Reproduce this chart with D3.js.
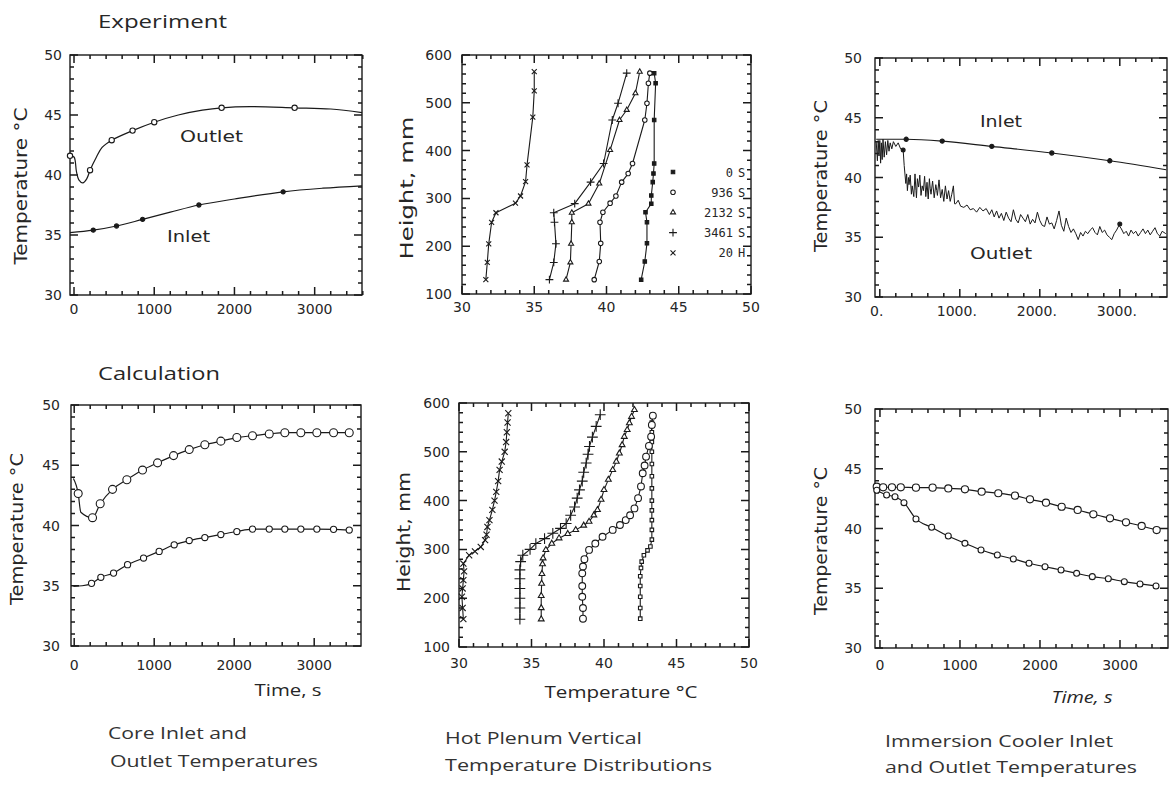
<!DOCTYPE html>
<html><head><meta charset="utf-8">
<script src="https://cdn.jsdelivr.net/npm/d3@7"></script>
<style>body{margin:0;background:#fff}</style>
</head><body><svg id="c" width="1176" height="786"></svg>
<script>
// ---------------- DATA ----------------
const timeTicks = [0, 1000, 2000, 3000];
const tempTicks = [30, 35, 40, 45, 50];
const heightTicks = [100, 200, 300, 400, 500, 600];
const profTempTicks = [30, 35, 40, 45, 50];

// Experiment: core inlet / outlet [time s, temp C]
const expCoreOutlet = [[-50,41.6],[0,41.5],[30,40.3],[60,39.6],[110,39.35],[160,39.7],[200,40.4],[280,41.5],[350,42.3],[470,42.9],[730,43.7],[1000,44.4],[1300,45.0],[1600,45.4],[1840,45.6],[2200,45.7],[2750,45.6],[3200,45.5],[3590,45.2]];
const expCoreOutletMarks = [[-50,41.6],[200,40.4],[470,42.9],[730,43.7],[1000,44.4],[1840,45.6],[2750,45.6]];
const expCoreInlet = [[-50,35.2],[240,35.4],[530,35.75],[855,36.3],[1200,36.9],[1557,37.5],[2000,38.0],[2607,38.6],[3100,38.9],[3590,39.1]];
const expCoreInletMarks = [[240,35.4],[530,35.75],[855,36.3],[1557,37.5],[2607,38.6]];

// Experiment: hot plenum profiles [temp C, height mm]
const expProf0s = [[42.4,130],[42.65,168],[42.8,206],[42.8,250],[42.7,271],[43.1,289],[43.1,306],[43.2,334],[43.25,352],[43.3,373],[43.3,464],[43.4,541],[43.3,562]];
const expProf936s = [[39.15,130],[39.5,168],[39.6,206],[39.55,250],[39.75,271],[40.25,290],[40.65,305],[41.05,334],[41.5,352],[41.8,373],[42.65,464],[42.8,499],[42.9,541],[43.0,562]];
const expProf2132s = [[37.2,130],[37.5,166],[37.55,205],[37.6,250],[37.6,270],[38.75,289],[39.5,331],[40.25,401],[40.9,464],[41.4,485],[42.0,520],[42.3,565]];
const expProf3461s = [[36.05,130],[36.35,166],[36.5,205],[36.4,250],[36.35,270],[37.8,289],[38.9,334],[39.8,373],[40.4,464],[40.8,499],[41.4,562]];
const expProf20h = [[31.65,130],[31.75,166],[31.85,205],[32.05,250],[32.35,270],[33.7,290],[34.05,305],[34.4,335],[34.5,370],[34.9,470],[35.0,525],[35.0,565]];
const legendLabels = [["0","S"],["936","S"],["2132","S"],["3461","S"],["20","H"]];

// Experiment: immersion cooler [time s, temp C]
const expCoolInlet = [[-45,43.2],[330,43.2],[780,43.05],[1400,42.6],[2150,42.05],[2875,41.4],[3580,40.65]];
const expCoolInletMarks = [[330,43.2],[780,43.05],[1400,42.6],[2150,42.05],[2875,41.4]];
const expCoolOutlet = [[-45,43.0],[-30,41.4],[-20,43.1],[-10,41.8],[0,43.1],[10,41.2],[20,42.9],[30,41.5],[40,43.2],[55,41.7],[70,43.0],[85,41.9],[100,43.1],[115,42.2],[130,42.9],[150,42.4],[170,43.0],[200,42.6],[230,42.9],[260,42.4],[292,42.3],[305,41.0],[325,39.5],[335,40.3],[345,38.9],[358,40.0],[365,39.4],[380,40.2],[395,38.6],[405,39.3],[425,38.4],[440,40.3],[452,38.9],[458,38.3],[470,39.9],[485,39.2],[500,40.2],[515,38.5],[530,39.3],[545,38.9],[560,40.1],[568,39.2],[575,38.4],[590,39.6],[605,38.2],[620,39.9],[630,39.1],[640,38.6],[660,39.7],[680,38.3],[700,39.4],[712,38.9],[720,38.5],[740,39.8],[760,38.3],[780,39.0],[800,38.0],[820,39.3],[840,38.2],[860,38.9],[880,38.0],[900,38.6],[920,39.3],[935,37.8],[950,37.8],[980,38.1],[1010,37.6],[1050,37.5],[1090,37.7],[1130,37.3],[1170,37.4],[1210,37.1],[1250,37.5],[1290,37.2],[1330,37.4],[1370,36.9],[1400,37.3],[1430,36.7],[1460,37.2],[1490,36.6],[1520,37.0],[1550,36.4],[1580,37.1],[1610,36.6],[1640,36.3],[1670,37.3],[1700,36.5],[1730,36.2],[1760,36.9],[1790,36.6],[1820,36.3],[1850,36.9],[1880,36.1],[1910,36.5],[1940,36.2],[1970,37.1],[2000,36.4],[2030,36.0],[2060,35.9],[2090,36.7],[2120,36.1],[2150,36.2],[2180,35.7],[2210,36.4],[2240,37.2],[2270,36.0],[2300,35.5],[2330,36.6],[2360,35.9],[2390,35.4],[2420,35.7],[2450,35.3],[2480,34.8],[2510,35.4],[2540,35.1],[2570,35.5],[2600,35.3],[2630,35.6],[2660,35.8],[2690,35.4],[2720,35.2],[2750,35.9],[2780,35.4],[2810,35.6],[2840,35.2],[2870,35.0],[2900,34.8],[2930,35.3],[2960,35.6],[2990,36.0],[3020,35.7],[3050,35.3],[3080,35.5],[3110,35.1],[3140,35.6],[3170,35.3],[3200,35.5],[3230,35.1],[3260,35.4],[3290,35.7],[3320,35.3],[3350,35.6],[3380,35.2],[3410,35.5],[3440,35.8],[3470,35.3],[3500,35.1],[3530,35.5],[3575,35.3]];
const expCoolOutletMarks = [[292,42.3],[3000,36.1]];

// Calculation: core [time s, temp C]
const calcCoreOutlet = [[-10,43.9],[50,42.65],[83,41.1],[229,40.65],[325,41.8],[479,43.0],[658,43.8],[854,44.6],[1042,45.2],[1242,45.8],[1438,46.3],[1633,46.7],[1833,47.0],[2033,47.3],[2229,47.45],[2438,47.6],[2633,47.7],[2833,47.7],[3033,47.7],[3242,47.7],[3438,47.7]];
const calcCoreOutletMarks = [[50,42.65],[229,40.65],[325,41.8],[479,43.0],[658,43.8],[854,44.6],[1042,45.2],[1242,45.8],[1438,46.3],[1633,46.7],[1833,47.0],[2033,47.3],[2229,47.45],[2438,47.6],[2633,47.7],[2833,47.7],[3033,47.7],[3242,47.7],[3438,47.7]];
const calcCoreInlet = [[-10,34.95],[100,35.0],[217,35.2],[333,35.7],[492,36.05],[667,36.75],[867,37.3],[1062,37.85],[1250,38.4],[1438,38.75],[1633,39.0],[1833,39.25],[2033,39.5],[2229,39.7],[2438,39.7],[2633,39.7],[2833,39.7],[3033,39.7],[3242,39.68],[3438,39.62]];
const calcCoreInletMarks = calcCoreInlet.slice(2);

// Calculation: hot plenum profiles [temp C, height mm]
const calcProf0s = [[42.5,158],[42.5,180],[42.5,203],[42.5,225],[42.5,245],[42.55,262],[42.6,275],[42.75,288],[43.0,298],[43.2,306],[43.3,320],[43.3,340],[43.3,360],[43.3,380],[43.3,400],[43.3,425],[43.3,450],[43.3,475],[43.3,500],[43.3,520],[43.3,540],[43.3,560],[43.35,576]];
const calcProf936s = [[38.55,158],[38.55,180],[38.5,203],[38.5,225],[38.5,251],[38.55,265],[38.65,280],[38.97,299],[39.4,312],[39.9,326],[40.6,340],[41.1,350],[41.5,360],[41.8,370],[42.1,384],[42.35,405],[42.55,429],[42.67,456],[42.8,472],[42.9,490],[43.1,512],[43.25,531],[43.3,555],[43.37,574]];
const calcProf2132s = [[35.67,157],[35.67,180],[35.67,205],[35.7,230],[35.72,250],[35.76,270],[35.8,282],[35.99,299],[36.4,312],[36.9,323],[37.5,332],[38.05,340],[38.6,349],[38.97,357],[39.3,370],[39.55,381],[39.8,402],[40.0,422],[40.3,443],[40.6,463],[40.85,480],[41.06,497],[41.25,514],[41.4,531],[41.6,545],[41.75,559],[41.9,572],[42.1,586]];
const calcProf3461s = [[34.2,157],[34.2,180],[34.2,200],[34.2,220],[34.2,240],[34.2,258],[34.25,275],[34.4,288],[34.9,300],[35.3,312],[35.9,322],[36.47,333],[37.0,343],[37.39,353],[37.7,370],[37.97,387],[38.15,405],[38.31,422],[38.5,440],[38.6,458],[38.77,477],[38.9,495],[39.0,511],[39.2,530],[39.46,552],[39.74,576]];
const calcProf20h = [[30.3,157],[30.25,180],[30.2,203],[30.25,220],[30.3,237],[30.35,255],[30.3,271],[30.7,288],[31.1,296],[31.5,305],[31.8,319],[31.9,330],[31.96,346],[32.1,360],[32.3,381],[32.45,400],[32.57,418],[32.7,440],[32.8,463],[32.95,480],[33.15,500],[33.25,520],[33.3,540],[33.35,560],[33.4,579]];

// Calculation: immersion cooler [time s, temp C]
const calcCoolInlet = [[-40,43.5],[40,43.45],[150,43.45],[260,43.45],[450,43.42],[658,43.42],[854,43.35],[1062,43.28],[1271,43.08],[1479,42.95],[1688,42.75],[1875,42.44],[2075,42.16],[2271,41.82],[2471,41.55],[2667,41.19],[2875,40.85],[3075,40.52],[3271,40.21],[3458,39.87]];
const calcCoolOutlet = [[-40,43.2],[83,42.8],[188,42.66],[300,42.16],[450,40.8],[646,40.1],[854,39.37],[1062,38.76],[1263,38.2],[1467,37.78],[1667,37.45],[1863,37.09],[2063,36.8],[2263,36.53],[2458,36.25],[2654,35.97],[2854,35.8],[3054,35.55],[3250,35.36],[3450,35.19]];

// ---------------- DRAWING ----------------
const svg = d3.select("#c");
const INK = "#1a1a1a";
const TXT = "#262626";

function makePanel(f) {
  const x = d3.scaleLinear().domain(f.xDom).range([f.x0, f.x1]);
  const y = d3.scaleLinear().domain(f.yDom).range([f.y1, f.y0]);
  const g = svg.append("g");
  const W = f.x1 - f.x0, H = f.y1 - f.y0;
  const xMinorVals = d3.range(f.xMinor[0], f.xMinor[1] + 1e-9, f.xMinor[2]);
  const yMinorVals = d3.range(f.yMinor[0], f.yMinor[1] + 1e-9, f.yMinor[2]);
  const tp = d3.path();
  const vt = (v, len) => { const px = x(v); tp.moveTo(px, f.y1); tp.lineTo(px, f.y1 - len); tp.moveTo(px, f.y0); tp.lineTo(px, f.y0 + len); };
  const ht = (v, len) => { const py = y(v); tp.moveTo(f.x0, py); tp.lineTo(f.x0 + len, py); tp.moveTo(f.x1, py); tp.lineTo(f.x1 - len, py); };
  xMinorVals.forEach(v => vt(v, 4));
  f.xTicks.forEach(v => vt(v, 8));
  yMinorVals.forEach(v => ht(v, 4));
  f.yTicks.forEach(v => ht(v, 8));
  g.append("path").attr("d", tp.toString()).attr("fill", "none").attr("stroke", INK).attr("stroke-width", 1.5);
  const fmt = f.xFmt || (d => d);
  g.append("g").selectAll("text").data(f.xTicks).join("text")
    .attr("x", d => x(d) + (f.xdx || 0)).attr("y", f.y1 + f.xPad)
    .attr("text-anchor", "middle").attr("font-family", "DejaVu Sans").attr("font-size", 14).attr("fill", TXT)
    .text(fmt);
  g.append("g").selectAll("text").data(f.yTicks).join("text")
    .attr("x", f.x0 - f.yPad).attr("y", d => y(d) + 5)
    .attr("text-anchor", "end").attr("font-family", "DejaVu Sans").attr("font-size", 14).attr("fill", TXT)
    .text(d => d);
  g.append("rect").attr("x", f.x0).attr("y", f.y0).attr("width", W).attr("height", H)
    .attr("fill", "none").attr("stroke", INK).attr("stroke-width", 1.4);
  return {x, y, g};
}

function drawLine(p, data, curve, w) {
  p.g.append("path").datum(data)
    .attr("d", d3.line().x(d => p.x(d[0])).y(d => p.y(d[1])).curve(curve || d3.curveLinear))
    .attr("fill", "none").attr("stroke", INK).attr("stroke-width", w || 1.2).attr("stroke-linejoin", "round");
}

const SYM = {circle: d3.symbolCircle, square: d3.symbolSquare, tri: d3.symbolTriangle2,
             plus: d3.symbolPlus, times: d3.symbolTimes, sq2: d3.symbolSquare2};
function marks(p, data, type, size, filled) {
  const stroked = (type === "plus" || type === "times");
  p.g.append("g").selectAll("path").data(data).join("path")
    .attr("transform", d => `translate(${p.x(d[0])},${p.y(d[1])})`)
    .attr("d", d3.symbol().type(SYM[type]).size(size))
    .attr("fill", stroked ? "none" : (filled ? INK : "#fff"))
    .attr("stroke", INK).attr("stroke-width", 1.1);
}

function label(str, x, y, opts) {
  opts = opts || {};
  const t = svg.append("text").text(str).attr("x", x).attr("y", y)
    .attr("font-family", opts.family || "DejaVu Sans").attr("font-size", opts.size || 16)
    .attr("fill", opts.fill || TXT).attr("text-anchor", opts.anchor || "start");
  if (opts.len) t.attr("textLength", opts.len).attr("lengthAdjust", "spacingAndGlyphs");
  if (opts.italic) t.attr("font-style", "italic");
  if (opts.rot) t.attr("transform", `rotate(-90,${x},${y})`);
  return t;
}

// ---- Panel 1: Experiment core
const p1 = makePanel({x0: 70, x1: 362, y0: 55, y1: 295, xDom: [-50, 3590], yDom: [30, 50],
  xTicks: timeTicks, xMinor: [0, 3600, 200], yTicks: tempTicks, yMinor: [30, 50, 1], xPad: 19, yPad: 8});
drawLine(p1, expCoreOutlet, d3.curveCatmullRom);
drawLine(p1, expCoreInlet, d3.curveCatmullRom);
marks(p1, expCoreOutletMarks, "circle", 22, false);
marks(p1, expCoreInletMarks, "circle", 14, true);

// ---- Panel 2: Experiment plenum
const p2 = makePanel({x0: 462, x1: 751, y0: 55, y1: 294, xDom: [30, 50], yDom: [100, 600],
  xTicks: profTempTicks, xMinor: [30, 50, 1], yTicks: heightTicks, yMinor: [100, 600, 20], xPad: 18, yPad: 10});
[expProf0s, expProf936s, expProf2132s, expProf3461s, expProf20h].forEach(d => drawLine(p2, d, d3.curveLinear, 1.1));
marks(p2, expProf0s, "square", 12, true);
marks(p2, expProf936s, "circle", 16, false);
marks(p2, expProf2132s, "tri", 18, false);
marks(p2, expProf3461s, "plus", 22);
marks(p2, expProf20h, "times", 18);
// legend
const legTypes = [["square", 12, true], ["circle", 16, false], ["tri", 18, false], ["plus", 22], ["times", 18]];
legendLabels.forEach((l, i) => {
  const yy = 172 + i * 20.2;
  const lt = legTypes[i];
  const stroked = (lt[0] === "plus" || lt[0] === "times");
  svg.append("path").attr("transform", `translate(673,${yy})`)
    .attr("d", d3.symbol().type(SYM[lt[0]]).size(lt[1]))
    .attr("fill", stroked ? "none" : (lt[2] ? INK : "#fff")).attr("stroke", INK).attr("stroke-width", 1.1);
  label(l[0], 733, yy + 4.5, {size: 12, anchor: "end", family: "DejaVu Sans Mono"});
  label(l[1], 738, yy + 4.5, {size: 12, family: "DejaVu Sans Mono"});
});

// ---- Panel 3: Experiment immersion cooler
const p3 = makePanel({x0: 875, x1: 1167, y0: 58, y1: 297, xDom: [-60, 3590], yDom: [30, 50],
  xTicks: timeTicks, xMinor: [0, 3400, 200], yTicks: tempTicks, yMinor: [30, 50, 1], xPad: 19, yPad: 13,
  xFmt: d => d + ".", xdx: -3});
drawLine(p3, expCoolInlet, d3.curveMonotoneX);
drawLine(p3, expCoolOutlet, d3.curveLinear, 1.0);
marks(p3, expCoolInletMarks, "circle", 14, true);
marks(p3, expCoolOutletMarks, "circle", 12, true);

// ---- Panel 4: Calculation core
const p4 = makePanel({x0: 71, x1: 361, y0: 405, y1: 646, xDom: [-40, 3585], yDom: [30, 50],
  xTicks: timeTicks, xMinor: [0, 3400, 200], yTicks: tempTicks, yMinor: [30, 50, 1], xPad: 24, yPad: 11});
drawLine(p4, calcCoreOutlet, d3.curveMonotoneX);
drawLine(p4, calcCoreInlet, d3.curveMonotoneX);
marks(p4, calcCoreOutletMarks, "circle", 50, false);
marks(p4, calcCoreInletMarks, "circle", 30, false);

// ---- Panel 5: Calculation plenum
const p5 = makePanel({x0: 459, x1: 749, y0: 403, y1: 647, xDom: [30, 50], yDom: [100, 600],
  xTicks: profTempTicks, xMinor: [30, 50, 1], yTicks: heightTicks, yMinor: [100, 600, 20], xPad: 21, yPad: 9});
[calcProf0s, calcProf936s, calcProf2132s, calcProf3461s, calcProf20h].forEach(d => drawLine(p5, d, d3.curveLinear, 1.1));
marks(p5, calcProf0s, "sq2", 16);
marks(p5, calcProf936s, "circle", 36, false);
marks(p5, calcProf2132s, "tri", 24, false);
marks(p5, calcProf3461s, "plus", 40);
marks(p5, calcProf20h, "times", 26);

// ---- Panel 6: Calculation immersion cooler
const p6 = makePanel({x0: 875, x1: 1168, y0: 409, y1: 648, xDom: [-62, 3600], yDom: [30, 50],
  xTicks: timeTicks, xMinor: [0, 3400, 200], yTicks: tempTicks, yMinor: [30, 50, 1], xPad: 22, yPad: 13});
drawLine(p6, calcCoolInlet, d3.curveMonotoneX);
drawLine(p6, calcCoolOutlet, d3.curveMonotoneX);
marks(p6, calcCoolInlet, "circle", 40, false);
marks(p6, calcCoolOutlet, "circle", 28, false);

// ---- Texts
const cap = {family: "Open Sans", size: 17, fill: "#333"};
label("Experiment", 98, 28, {family: "Open Sans", size: 19, len: 129});
label("Calculation", 98, 380, {family: "Open Sans", size: 19, len: 122});

label("Outlet", 180, 142, {family: "DejaVu Sans", size: 16, len: 63});
label("Inlet", 167, 242, {family: "DejaVu Sans", size: 16, len: 43});
label("Inlet", 980, 127, {family: "DejaVu Sans", size: 16, len: 42});
label("Outlet", 970, 259, {family: "DejaVu Sans", size: 16, len: 62});

// axis titles (rotated)
label("Temperature °C", 27, 186, {size: 18, rot: true, anchor: "middle", len: 157});
label("Height, mm", 413, 188, {size: 18, rot: true, anchor: "middle", len: 143});
label("Temperature °C", 827, 176, {size: 18, rot: true, anchor: "middle", len: 152});
label("Temperature °C", 23, 529, {size: 18, rot: true, anchor: "middle", len: 152});
label("Height, mm", 410, 532, {size: 17, rot: true, anchor: "middle", len: 120});
label("Temperature °C", 827, 541, {size: 18, rot: true, anchor: "middle", len: 148});

label("Time, s", 288, 696, {family: "Open Sans", size: 17, anchor: "middle", len: 67});
label("Temperature °C", 621, 698, {family: "Open Sans", size: 17, anchor: "middle", len: 153});
label("Time, s", 1082, 703, {family: "Open Sans", size: 17, anchor: "middle", len: 61, italic: true});

// captions
label("Core Inlet and", 108, 739, Object.assign({len: 139}, cap));
label("Outlet Temperatures", 110, 767, Object.assign({len: 208}, cap));
label("Hot Plenum Vertical", 445, 744, Object.assign({len: 197}, cap));
label("Temperature Distributions", 445, 771, Object.assign({len: 267}, cap));
label("Immersion Cooler Inlet", 885, 747, Object.assign({len: 228}, cap));
label("and Outlet Temperatures", 885, 773, Object.assign({len: 252}, cap));
</script></body></html>
